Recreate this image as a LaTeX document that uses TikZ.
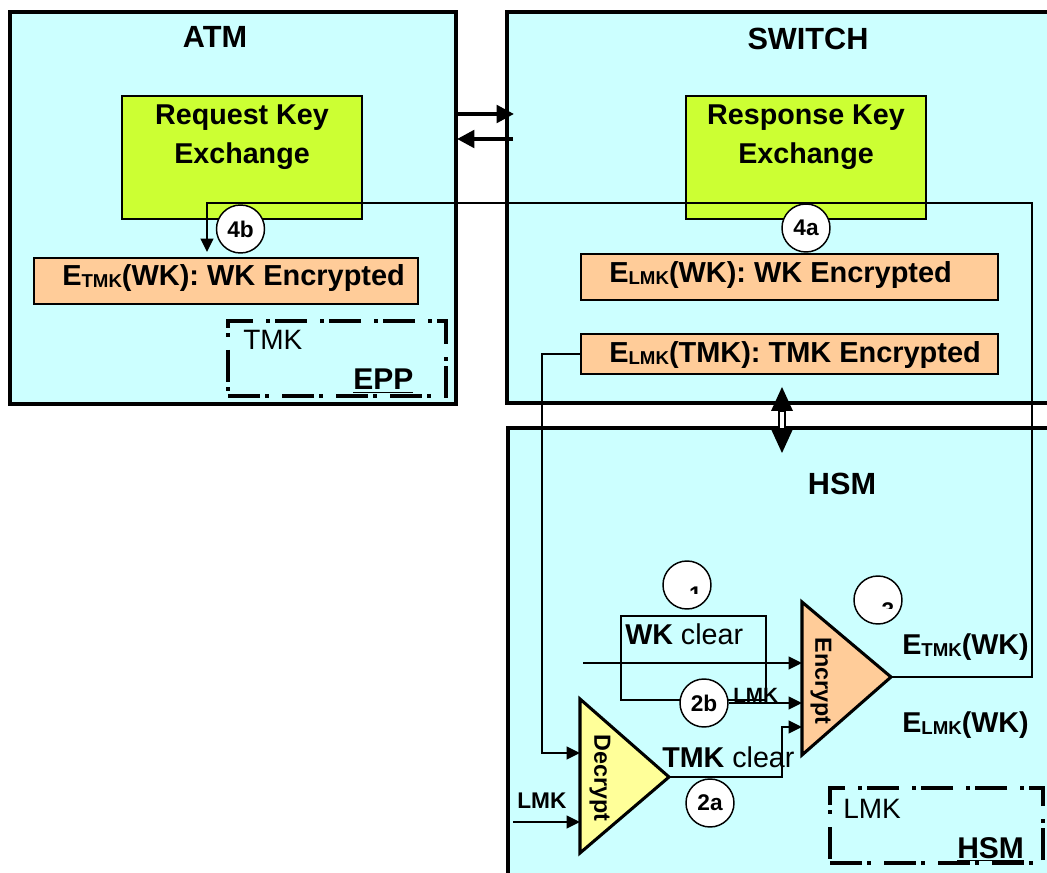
\documentclass[tikz,border=0pt]{standalone}
\usepackage{fontspec}
\setmainfont{Liberation Sans}
\usetikzlibrary{arrows.meta,fit}

\definecolor{bgcyan}{HTML}{CCFFFF}
\definecolor{keygreen}{HTML}{CCFF33}
\definecolor{encorange}{HTML}{FFCC99}
\definecolor{decyellow}{HTML}{FFFF99}

% font size shortcut and subscript for key names
\newcommand{\fs}[1]{\fontsize{#1}{#1}\selectfont}
\newcommand{\keysub}[1]{{\fontsize{14}{14}\selectfont\raisebox{-1.5pt}{#1}}}

\tikzset{
  region/.style={draw, line width=2.4pt, fill=bgcyan, inner sep=0pt},
  keybox/.style={draw, line width=1.1pt, fill=keygreen, inner sep=0pt},
  databox/.style={draw, line width=1.1pt, fill=encorange, inner sep=0pt},
  securebox/.style={draw, line width=2.3pt, dash pattern=on 24pt off 4pt on 2.5pt off 10pt, inner sep=0pt},
  headline/.style={anchor=base, inner sep=0pt, font=\bfseries\fs{23}},
  keytext/.style={align=center, inner sep=0pt, font=\bfseries\fontsize{21.5}{29.25}\selectfont},
  txt/.style={anchor=base west, inner sep=0pt},
  stepmark/.style={circle, draw, line width=1.1pt, fill=white, minimum size=36pt, inner sep=0pt, font=\bfseries\fs{17}},
  cipher/.style={draw, line width=2.3pt, line join=miter},
  wire/.style={line width=1.4pt},
  flow/.style={line width=1.4pt, -{Triangle[length=10pt,width=9.5pt]}},
  bus/.style={line width=3pt, -{Triangle[length=13pt,width=13pt]}},
}

\begin{document}
\begin{tikzpicture}[x=0.75pt,y=-0.75pt]
\useasboundingbox (0,0) rectangle (1047,873);
\clip (0,0) rectangle (1047,873);
\fill[white] (0,0) rectangle (1047,873);

% the three sites
\node[region, fit={(10,12) (456,404)}] (atm) {};
\node[region, fit={(507,12) (1070,403)}] (switch) {};
\node[region, fit={(508,428) (1070,900)}] (hsm) {};

\node[headline] (atmTitle) at (215,48) {ATM};
\node[headline] (switchTitle) at (808,50) {SWITCH};
\node[headline] (hsmTitle) at (842,495) {HSM};

% key exchange messages
\node[keybox, fit={(122,96) (362,219)}] (req) {};
\node[keybox, fit={(686,96) (926,219)}] (resp) {};
\node[keytext] (reqText) at (242,137) {Request Key\\Exchange};
\node[keytext] (respText) at (806,137) {Response Key\\Exchange};

% stored cryptograms
\node[databox, fit={(34,258) (418,304)}] (etmkwk) {};
\node[databox, fit={(581,254) (998,300)}] (elmkwk) {};
\node[databox, fit={(581,334) (998,374)}] (elmktmk) {};
\node[txt, font=\bfseries\fs{21.7}] (etmkwkText) at (62,286) {E\keysub{TMK}(WK): WK Encrypted};
\node[txt, font=\bfseries\fs{21.7}] (elmkwkText) at (609,283) {E\keysub{LMK}(WK): WK Encrypted};
\node[txt, font=\bfseries\fs{21.7}] (elmktmkText) at (609,363) {E\keysub{LMK}(TMK): TMK Encrypted};

% secure key stores
\node[securebox, fit={(228,321) (446,396)}] (epp) {};
\node[txt, font=\fs{21}] (eppKey) at (243,350) {TMK};
\node[txt, font=\bfseries\fs{22.5}] (eppName) at (353,390) {\underline{EPP}};
\node[securebox, fit={(830,788) (1043,863)}] (hsmStore) {};
\node[txt, font=\fs{21}] (hsmKey) at (843,818) {LMK};
\node[txt, font=\bfseries\fs{22.5}] (hsmName) at (957,858) {\underline{HSM}};

% links between the sites
\coordinate (busOut) at (514,114);
\coordinate (busBackStart) at (513,139);
\coordinate (busBackEnd) at (457,139);
\draw[bus] (atm.east |- busOut) -- (busOut);
\draw[bus] (busBackStart) -- (busBackEnd);

\coordinate (linkTop) at (782,387);
\coordinate (linkBot) at (782,453);
\fill[white, draw=black, line width=1pt] (779,411) rectangle (785,429);
\fill (linkTop) -- (793,411) -- (771,411) -- cycle;
\fill (linkBot) -- (771,429) -- (793,429) -- cycle;

% cipher units
\coordinate (decTop) at (580,699);
\coordinate (decBot) at (580,853);
\coordinate (decApex) at (669,777);
\coordinate (encTop) at (802,602);
\coordinate (encBot) at (802,755);
\coordinate (encApex) at (891,677);
\draw[cipher, fill=decyellow] (decTop) -- (decApex) -- (decBot) -- cycle;
\draw[cipher, fill=encorange] (encTop) -- (encApex) -- (encBot) -- cycle;
\node[rotate=-90, inner sep=0pt, font=\bfseries\fs{17.5}] (decLabel) at (600,778) {Decrypt};
\node[rotate=-90, inner sep=0pt, font=\bfseries\fs{17.5}] (encLabel) at (821,681) {Encrypt};

% working key in clear
\node[wire, draw, inner sep=0pt, fit={(621,616) (766,700)}] (wkbox) {};
\node[txt, font=\fs{21.5}] (wkText) at (625,644) {\textbf{WK} clear};
\node[txt, font=\fs{21.5}] (tmkText) at (662,767) {\textbf{TMK} clear};
\node[txt, font=\bfseries\fs{17}] (lmkIn) at (517,808) {LMK};
\node[txt, font=\bfseries\fs{15.5}] (lmkEnc) at (733,702) {LMK};

% results of encryption
\node[txt, font=\bfseries\fs{21.5}] (outTmk) at (902,655) {E\keysub{TMK}(WK)};
\node[txt, font=\bfseries\fs{21.5}] (outLmk) at (902,732) {E\keysub{LMK}(WK)};

% data flow
\coordinate (decIn1) at (580,753);
\coordinate (decIn2) at (580,822);
\coordinate (lmkSrc) at (513,822);
\coordinate (bendX) at (542,753);
\coordinate (wkSrc) at (583,663);
\coordinate (encIn1) at (802,663);
\coordinate (encIn2) at (802,703);
\coordinate (encIn3) at (802,727);
\coordinate (jog) at (782,777);
\coordinate (retTop) at (1032,203);
\coordinate (dropTop) at (207,203);
\coordinate (dropEnd) at (207,252);

\draw[flow] (elmktmk.west) -| (bendX) -- (decIn1);
\draw[flow] (lmkSrc) -- (decIn2);
\draw[flow] (wkSrc) -- (encIn1);
\draw[flow] (decApex) -- (jog) |- (encIn3);
\draw[flow] (encApex) -| (retTop) -- (dropTop) -- (dropEnd);

% step markers
\node[stepmark] (s4b) at (240.5,229) {4b};
\node[stepmark] (s4a) at (806,228) {4a};
\node[stepmark] (s1) at (687,585) {};
\node[stepmark] (s3) at (878,600) {};
\node[stepmark] (s2b) at (704,703) {2b};
\node[stepmark] (s2a) at (710,803) {2a};
\draw[flow] (s2b.east) -- (encIn2);

\begin{scope}
  \clip (675,575) rectangle (712,593.5);
  \node[anchor=north, inner sep=0pt, font=\bfseries\fs{17}] (s1num) at (695.5,586.5) {1};
\end{scope}
\begin{scope}
  \clip (866,590) rectangle (900,608.5);
  \node[anchor=north, inner sep=0pt, font=\bfseries\fs{17}] (s3num) at (888,602.5) {3};
\end{scope}
\end{tikzpicture}
\end{document}
